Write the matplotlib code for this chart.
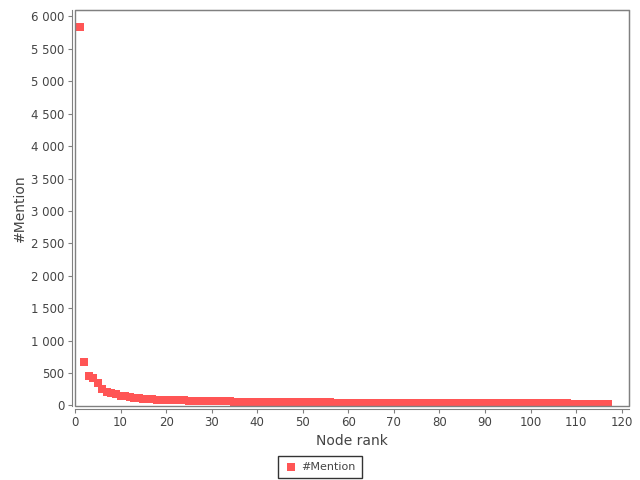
import matplotlib.pyplot as plt
from matplotlib.patches import Rectangle
from matplotlib.ticker import FuncFormatter, MultipleLocator

# node rank vs number of mentions
mentions = [5830, 673, 450, 416, 350, 247, 205, 190, 175, 150, 140, 125,
            115, 110, 105, 100, 95, 88, 85, 82,
            80, 78, 76, 75, 74, 72, 70, 68, 66, 65,
            64, 62, 61, 60, 59, 58, 57, 56, 55, 55,
            54, 53, 52, 52, 51, 50, 50, 49, 48, 48,
            47, 47, 46, 46, 45, 45, 44, 44, 43, 43,
            42, 42, 42, 41, 41, 40, 40, 40, 39, 39,
            39, 38, 38, 38, 37, 37, 37, 36, 36, 36,
            35, 35, 35, 35, 34, 34, 34, 34, 33, 33,
            33, 33, 32, 32, 32, 32, 31, 31, 31, 31,
            30, 30, 30, 30, 29, 29, 29, 29, 28, 28,
            28, 28, 27, 27, 27, 26, 26]
ranks = list(range(1, len(mentions) + 1))

red = '#ff5555'
grey = '#808080'
txt = '#444444'

fig = plt.figure(figsize=(6.4, 4.8), dpi=100)
ax = fig.add_axes([75/640, 1 - 406/480, (629-75)/640, (406-10)/480])

ax.scatter(ranks, mentions, marker='s', s=26, color=red, linewidths=0, label='#Mention')

ax.set_xlim(0, 121.6)
ax.set_ylim(-10, 6100)
ax.xaxis.set_major_locator(MultipleLocator(10))
ax.yaxis.set_major_locator(MultipleLocator(500))
ax.yaxis.set_major_formatter(FuncFormatter(lambda v, p: f'{int(v):,}'.replace(',', ' ')))

# axis lines sit a few pixels away from the plot border, like the original
for side in ['left', 'bottom']:
    ax.spines[side].set_position(('outward', 2.5))
    ax.spines[side].set_color(grey)
for side in ['top', 'right']:
    ax.spines[side].set_color(grey)
ax.add_patch(Rectangle((0, 0), 1, 1, transform=ax.transAxes, fill=False,
                       edgecolor=grey, linewidth=1, clip_on=False))

ax.tick_params(direction='out', length=3, color=grey, labelsize=8.5, labelcolor=txt, pad=2)
ax.set_xlabel('Node rank', fontsize=10, color=txt, labelpad=3)
ax.set_ylabel('#Mention', fontsize=10, color=txt, labelpad=3)

leg = fig.legend(loc='lower center', bbox_to_anchor=(0.5, -0.008), fontsize=8,
                 frameon=True, fancybox=False, handletextpad=0.3, borderpad=0.55,
                 handlelength=1.2, markerscale=1.2)
leg.get_frame().set_edgecolor('black')
leg.get_frame().set_linewidth(1)
for t in leg.get_texts():
    t.set_color(txt)

fig.savefig('out.png', dpi=100)
